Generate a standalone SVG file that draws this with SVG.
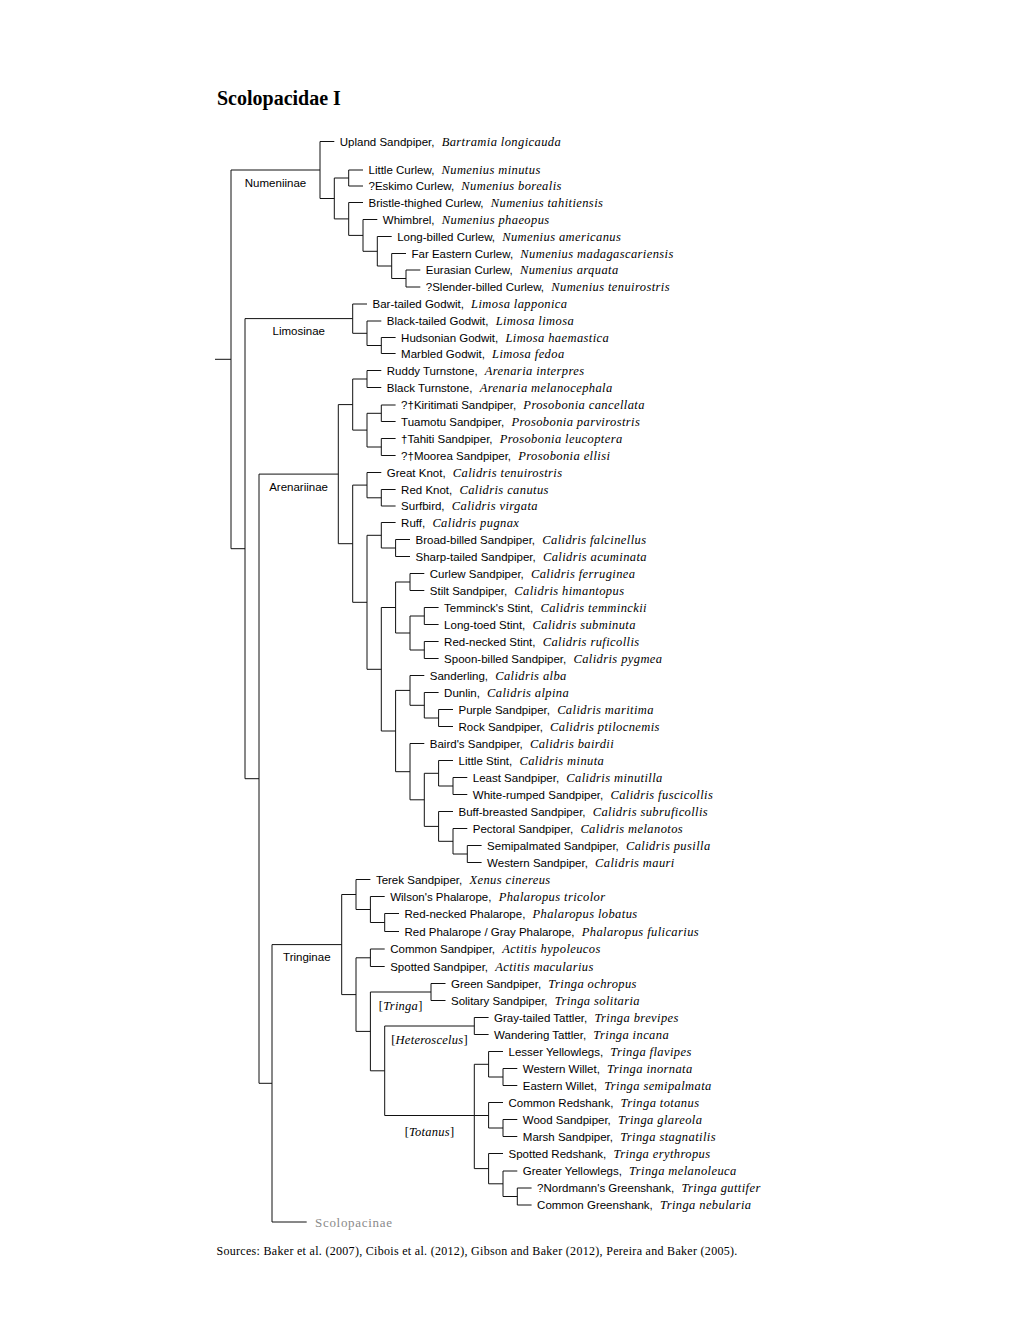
<svg xmlns="http://www.w3.org/2000/svg" width="1020" height="1320" viewBox="0 0 1020 1320">
<style>
text{fill:#000}
.t{font-family:"Liberation Serif","Times New Roman",serif;font-weight:bold;font-size:20px}
.l{font-family:"Liberation Sans",Arial,sans-serif;font-size:11.5px}
.s{font-family:"Liberation Serif","Times New Roman",serif;font-style:italic;font-size:12.5px;letter-spacing:0.4px}
.sf{font-family:"Liberation Sans",Arial,sans-serif;font-size:11.5px;text-anchor:middle}
.br{font-family:"Liberation Serif","Times New Roman",serif;font-size:12.5px;text-anchor:middle;letter-spacing:0.25px}
.br tspan{font-style:italic}
.sc{font-family:"Liberation Serif","Times New Roman",serif;font-size:13px;letter-spacing:0.7px;fill:#8a8a8a}
.src{font-family:"Liberation Serif","Times New Roman",serif;font-size:12px;letter-spacing:0.3px}
#connectors path{fill:none;stroke:#111;stroke-width:1}
</style>
<rect width="1020" height="1320" fill="#fff"/>
<text class="t" x="217" y="105">Scolopacidae I</text>
<g id="connectors">
<path d="M215 359.3H231M320 170H231V548.7H245M352.7 318.6H245V778.7H259M338.3 474.1H259V1083.3H272M341.7 944.6H272V1222H306.7"/>
<path d="M334.3 141.5H320V198.5H334.3M348.7 178H334.3V218.9H348.7M363 170H348.7V186H363M363 202.5H348.7V235.4H363M377.3 219.5H363V251.3H377.3M391.7 236.5H377.3V266H391.7M406 253.5H391.7V278.5H406M420.3 270H406V287H420.3"/>
<path d="M367 304H352.7V333.3H367M381.3 321H367V345.5H381.3M395.6 337.5H381.3V353.5H395.6"/>
<path d="M352.7 404.6H338.3V543.7H352.7M367 379H352.7V430.1H367M381.3 370.5H367V387.5H381.3M381.3 413.3H367V447H381.3M395.6 405H381.3V421.5H395.6M395.6 438.5H381.3V455.5H395.6"/>
<path d="M367 485.1H352.7V602.3H367M381.3 472.5H367V497.8H381.3M395.6 489.5H381.3V506H395.6M381.3 535.3H367V669.3H381.3M395.6 522.5H381.3V548H395.6M410 539.5H395.6V556.5H410"/>
<path d="M395.6 607.5H381.3V731H395.6M410 582H395.6V633H410M424.3 573.5H410V590.5H424.3M424.3 616H410V650H424.3M438.6 607.5H424.3V624.5H438.6M438.6 641.5H424.3V658.5H438.6"/>
<path d="M410 690.4H395.6V771.7H410M424.3 675.5H410V705.3H424.3M438.6 692.5H424.3V718H438.6M453 709.5H438.6V726.5H453M424.3 743.5H410V799.8H424.3M438.6 773.3H424.3V826.4H438.6M453 760.5H438.6V786H453M467.3 777.5H453V794.5H467.3M453 811.5H438.6V841.3H453M467.3 828.5H453V854H467.3M481.6 845.5H467.3V862.5H481.6"/>
<path d="M356 894.5H341.7V994.6H356M370.4 879.5H356V909.5H370.4M384.7 896.5H370.4V922.5H384.7M399 913.5H384.7V931.5H399M370.4 957.8H356V1031.4H370.4M384.7 949H370.4V966.5H384.7"/>
<path d="M431 992H370.4V1070.8H384.7M445.5 983.5H431V1000.5H445.5M474.3 1026H384.7V1115.5H474.3M488.6 1017.5H474.3V1034.5H488.6M488.6 1064.3H474.3V1168.6H488.6M474.3 1115.5H488.6M503 1051.5H488.6V1077H503M517.3 1068.5H503V1085.5H517.3M503 1102.5H488.6V1128H503M517.3 1119.5H503V1136.5H517.3M503 1153.5H488.6V1183.8H503M517.3 1171H503V1196.5H517.3M531.6 1188H517.3V1205H531.6"/>
</g>
<g id="labels">
<g id="lab-numeniinae"><text class="sf" x="275.5" y="186.5">Numeniinae</text></g>
<g id="lab-limosinae"><text class="sf" x="298.8" y="335">Limosinae</text></g>
<g id="lab-arenariinae"><text class="sf" x="298.6" y="490.6">Arenariinae</text></g>
<g id="lab-tringinae"><text class="sf" x="306.8" y="961">Tringinae</text></g>
<g id="lab-tringa"><text class="br" x="400.7" y="1009.5">[<tspan>Tringa</tspan>]</text></g>
<g id="lab-heteroscelus"><text class="br" x="429.5" y="1043.5">[<tspan>Heteroscelus</tspan>]</text></g>
<g id="lab-totanus"><text class="br" x="429.5" y="1135.5">[<tspan>Totanus</tspan>]</text></g>
<g id="lab-scolopacinae"><text class="sc" x="315" y="1227">Scolopacinae</text></g>
</g>
<g id="leaves">
<g id="n01"><text class="l" x="339.8" y="145.5">Upland Sandpiper, <tspan class="s" dx="4">Bartramia longicauda</tspan></text></g>
<g id="n02"><text class="l" x="368.5" y="174">Little Curlew, <tspan class="s" dx="4">Numenius minutus</tspan></text></g>
<g id="n03"><text class="l" x="368.5" y="190">?Eskimo Curlew, <tspan class="s" dx="4">Numenius borealis</tspan></text></g>
<g id="n04"><text class="l" x="368.5" y="206.5">Bristle-thighed Curlew, <tspan class="s" dx="4">Numenius tahitiensis</tspan></text></g>
<g id="n05"><text class="l" x="382.8" y="223.5">Whimbrel, <tspan class="s" dx="4">Numenius phaeopus</tspan></text></g>
<g id="n06"><text class="l" x="397.2" y="240.5">Long-billed Curlew, <tspan class="s" dx="4">Numenius americanus</tspan></text></g>
<g id="n07"><text class="l" x="411.5" y="257.5">Far Eastern Curlew, <tspan class="s" dx="4">Numenius madagascariensis</tspan></text></g>
<g id="n08"><text class="l" x="425.8" y="274">Eurasian Curlew, <tspan class="s" dx="4">Numenius arquata</tspan></text></g>
<g id="n09"><text class="l" x="425.8" y="291">?Slender-billed Curlew, <tspan class="s" dx="4">Numenius tenuirostris</tspan></text></g>
<g id="n10"><text class="l" x="372.5" y="308">Bar-tailed Godwit, <tspan class="s" dx="4">Limosa lapponica</tspan></text></g>
<g id="n11"><text class="l" x="386.8" y="325">Black-tailed Godwit, <tspan class="s" dx="4">Limosa limosa</tspan></text></g>
<g id="n12"><text class="l" x="401.1" y="341.5">Hudsonian Godwit, <tspan class="s" dx="4">Limosa haemastica</tspan></text></g>
<g id="n13"><text class="l" x="401.1" y="357.5">Marbled Godwit, <tspan class="s" dx="4">Limosa fedoa</tspan></text></g>
<g id="n14"><text class="l" x="386.8" y="374.5">Ruddy Turnstone, <tspan class="s" dx="4">Arenaria interpres</tspan></text></g>
<g id="n15"><text class="l" x="386.8" y="391.5">Black Turnstone, <tspan class="s" dx="4">Arenaria melanocephala</tspan></text></g>
<g id="n16"><text class="l" x="401.1" y="409">?†Kiritimati Sandpiper, <tspan class="s" dx="4">Prosobonia cancellata</tspan></text></g>
<g id="n17"><text class="l" x="401.1" y="425.5">Tuamotu Sandpiper, <tspan class="s" dx="4">Prosobonia parvirostris</tspan></text></g>
<g id="n18"><text class="l" x="401.1" y="442.5">†Tahiti Sandpiper, <tspan class="s" dx="4">Prosobonia leucoptera</tspan></text></g>
<g id="n19"><text class="l" x="401.1" y="459.5">?†Moorea Sandpiper, <tspan class="s" dx="4">Prosobonia ellisi</tspan></text></g>
<g id="n20"><text class="l" x="386.8" y="476.5">Great Knot, <tspan class="s" dx="4">Calidris tenuirostris</tspan></text></g>
<g id="n21"><text class="l" x="401.1" y="493.5">Red Knot, <tspan class="s" dx="4">Calidris canutus</tspan></text></g>
<g id="n22"><text class="l" x="401.1" y="510">Surfbird, <tspan class="s" dx="4">Calidris virgata</tspan></text></g>
<g id="n23"><text class="l" x="401.1" y="526.5">Ruff, <tspan class="s" dx="4">Calidris pugnax</tspan></text></g>
<g id="n24"><text class="l" x="415.5" y="543.5">Broad-billed Sandpiper, <tspan class="s" dx="4">Calidris falcinellus</tspan></text></g>
<g id="n25"><text class="l" x="415.5" y="560.5">Sharp-tailed Sandpiper, <tspan class="s" dx="4">Calidris acuminata</tspan></text></g>
<g id="n26"><text class="l" x="429.8" y="577.5">Curlew Sandpiper, <tspan class="s" dx="4">Calidris ferruginea</tspan></text></g>
<g id="n27"><text class="l" x="429.8" y="594.5">Stilt Sandpiper, <tspan class="s" dx="4">Calidris himantopus</tspan></text></g>
<g id="n28"><text class="l" x="444.1" y="611.5">Temminck's Stint, <tspan class="s" dx="4">Calidris temminckii</tspan></text></g>
<g id="n29"><text class="l" x="444.1" y="628.5">Long-toed Stint, <tspan class="s" dx="4">Calidris subminuta</tspan></text></g>
<g id="n30"><text class="l" x="444.1" y="645.5">Red-necked Stint, <tspan class="s" dx="4">Calidris ruficollis</tspan></text></g>
<g id="n31"><text class="l" x="444.1" y="662.5">Spoon-billed Sandpiper, <tspan class="s" dx="4">Calidris pygmea</tspan></text></g>
<g id="n32"><text class="l" x="429.8" y="679.5">Sanderling, <tspan class="s" dx="4">Calidris alba</tspan></text></g>
<g id="n33"><text class="l" x="444.1" y="696.5">Dunlin, <tspan class="s" dx="4">Calidris alpina</tspan></text></g>
<g id="n34"><text class="l" x="458.5" y="713.5">Purple Sandpiper, <tspan class="s" dx="4">Calidris maritima</tspan></text></g>
<g id="n35"><text class="l" x="458.5" y="730.5">Rock Sandpiper, <tspan class="s" dx="4">Calidris ptilocnemis</tspan></text></g>
<g id="n36"><text class="l" x="429.8" y="747.5">Baird's Sandpiper, <tspan class="s" dx="4">Calidris bairdii</tspan></text></g>
<g id="n37"><text class="l" x="458.5" y="764.5">Little Stint, <tspan class="s" dx="4">Calidris minuta</tspan></text></g>
<g id="n38"><text class="l" x="472.8" y="781.5">Least Sandpiper, <tspan class="s" dx="4">Calidris minutilla</tspan></text></g>
<g id="n39"><text class="l" x="472.8" y="798.5">White-rumped Sandpiper, <tspan class="s" dx="4">Calidris fuscicollis</tspan></text></g>
<g id="n40"><text class="l" x="458.5" y="815.5">Buff-breasted Sandpiper, <tspan class="s" dx="4">Calidris subruficollis</tspan></text></g>
<g id="n41"><text class="l" x="472.8" y="832.5">Pectoral Sandpiper, <tspan class="s" dx="4">Calidris melanotos</tspan></text></g>
<g id="n42"><text class="l" x="487.1" y="849.5">Semipalmated Sandpiper, <tspan class="s" dx="4">Calidris pusilla</tspan></text></g>
<g id="n43"><text class="l" x="487.1" y="866.5">Western Sandpiper, <tspan class="s" dx="4">Calidris mauri</tspan></text></g>
<g id="n44"><text class="l" x="375.9" y="883.5">Terek Sandpiper, <tspan class="s" dx="4">Xenus cinereus</tspan></text></g>
<g id="n45"><text class="l" x="390.2" y="900.5">Wilson's Phalarope, <tspan class="s" dx="4">Phalaropus tricolor</tspan></text></g>
<g id="n46"><text class="l" x="404.5" y="917.5">Red-necked Phalarope, <tspan class="s" dx="4">Phalaropus lobatus</tspan></text></g>
<g id="n47"><text class="l" x="404.5" y="935.5">Red Phalarope / Gray Phalarope, <tspan class="s" dx="4">Phalaropus fulicarius</tspan></text></g>
<g id="n48"><text class="l" x="390.2" y="953">Common Sandpiper, <tspan class="s" dx="4">Actitis hypoleucos</tspan></text></g>
<g id="n49"><text class="l" x="390.2" y="970.5">Spotted Sandpiper, <tspan class="s" dx="4">Actitis macularius</tspan></text></g>
<g id="n50"><text class="l" x="451" y="987.5">Green Sandpiper, <tspan class="s" dx="4">Tringa ochropus</tspan></text></g>
<g id="n51"><text class="l" x="451" y="1004.5">Solitary Sandpiper, <tspan class="s" dx="4">Tringa solitaria</tspan></text></g>
<g id="n52"><text class="l" x="494.1" y="1021.5">Gray-tailed Tattler, <tspan class="s" dx="4">Tringa brevipes</tspan></text></g>
<g id="n53"><text class="l" x="494.1" y="1038.5">Wandering Tattler, <tspan class="s" dx="4">Tringa incana</tspan></text></g>
<g id="n54"><text class="l" x="508.5" y="1055.5">Lesser Yellowlegs, <tspan class="s" dx="4">Tringa flavipes</tspan></text></g>
<g id="n55"><text class="l" x="522.8" y="1072.5">Western Willet, <tspan class="s" dx="4">Tringa inornata</tspan></text></g>
<g id="n56"><text class="l" x="522.8" y="1089.5">Eastern Willet, <tspan class="s" dx="4">Tringa semipalmata</tspan></text></g>
<g id="n57"><text class="l" x="508.5" y="1106.5">Common Redshank, <tspan class="s" dx="4">Tringa totanus</tspan></text></g>
<g id="n58"><text class="l" x="522.8" y="1123.5">Wood Sandpiper, <tspan class="s" dx="4">Tringa glareola</tspan></text></g>
<g id="n59"><text class="l" x="522.8" y="1140.5">Marsh Sandpiper, <tspan class="s" dx="4">Tringa stagnatilis</tspan></text></g>
<g id="n60"><text class="l" x="508.5" y="1157.5">Spotted Redshank, <tspan class="s" dx="4">Tringa erythropus</tspan></text></g>
<g id="n61"><text class="l" x="522.8" y="1175">Greater Yellowlegs, <tspan class="s" dx="4">Tringa melanoleuca</tspan></text></g>
<g id="n62"><text class="l" x="537.1" y="1192">?Nordmann's Greenshank, <tspan class="s" dx="4">Tringa guttifer</tspan></text></g>
<g id="n63"><text class="l" x="537.1" y="1209">Common Greenshank, <tspan class="s" dx="4">Tringa nebularia</tspan></text></g>
</g>
<text class="src" x="216.5" y="1255">Sources: Baker et al. (2007), Cibois et al. (2012), Gibson and Baker (2012), Pereira and Baker (2005).</text>
</svg>
